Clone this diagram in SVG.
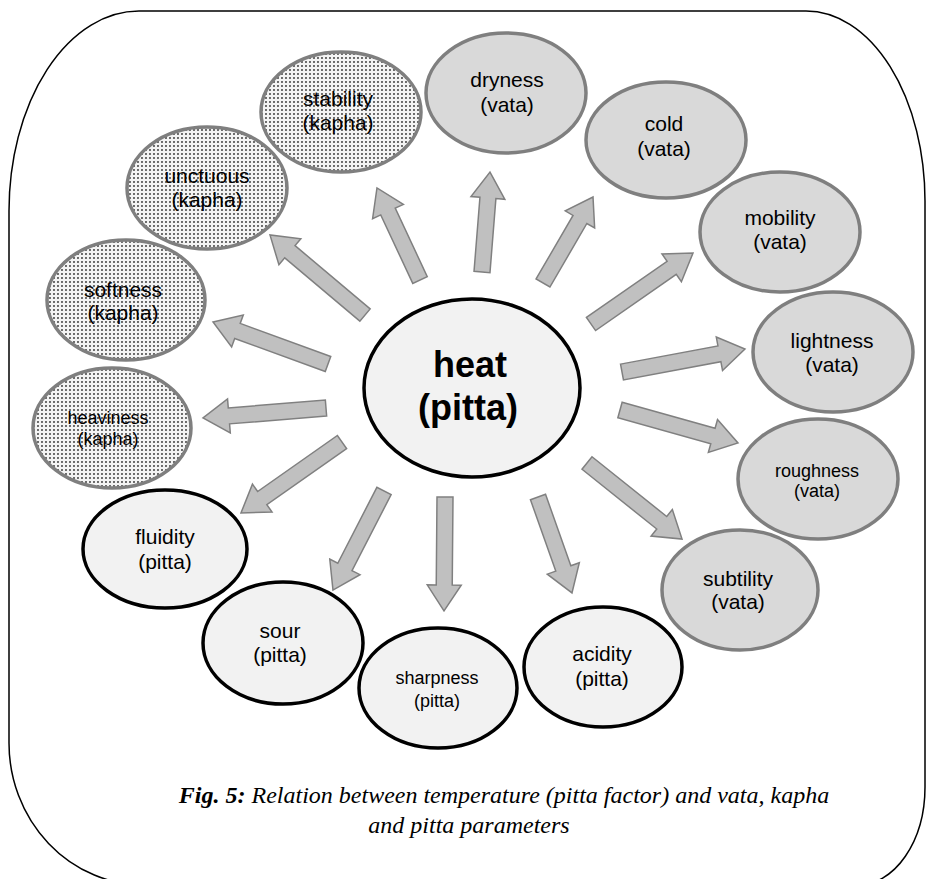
<svg xmlns="http://www.w3.org/2000/svg" width="928" height="879" viewBox="0 0 928 879">
  <defs>
    <!-- stipple fill for the kapha qualities -->
    <pattern id="dots" width="4" height="4" patternUnits="userSpaceOnUse">
      <rect width="4" height="4" fill="#f4f4f4"/>
      <circle cx="2" cy="2" r="1.05" fill="#4a4a4a"/>
    </pattern>
    <style>
      .frame { fill: #ffffff; stroke: #000000; stroke-width: 1.5; }
      .vata { fill: #d9d9d9; stroke: #7f7f7f; stroke-width: 3.5; }
      .kapha { fill: url(#dots); stroke: #7f7f7f; stroke-width: 3.5; }
      .pitta { fill: #f2f2f2; stroke: #000000; stroke-width: 3.5; }
      .lbl { font-family: "Liberation Sans", Arial, sans-serif; font-size: 21px; fill: #000; text-anchor: middle; }
      .sm { font-size: 18px; }
      .big { font-size: 36px; font-weight: bold; }
      .arrow { fill: #c0c0c0; stroke: #808080; stroke-width: 1.5; stroke-linejoin: miter; }
      .cap { font-family: "Liberation Serif", "Times New Roman", serif; font-size: 24px; font-style: italic; fill: #000; text-anchor: middle; }
      .capb { font-weight: bold; }
    </style>
  </defs>

  <rect width="928" height="879" fill="#ffffff"/>

  <!-- outer rounded border -->
  <path class="frame" d="M 139,11 H 806 A 119,190 0 0 1 925,201 V 787 A 67,98 0 0 1 858,885 H 144 A 135,142 0 0 1 9,743 V 211 A 130,200 0 0 1 139,11 Z"/>

  <!-- block arrows radiating from the centre -->
  <g id="connectors">
    <path class="arrow" transform="translate(420,280) rotate(-115.05)" d="M0,-8 H75.6 V-17 L101.6,0 L75.6,17 V8 H0 Z"/>
    <path class="arrow" transform="translate(482,272) rotate(-85.43)" d="M0,-8 H74.3 V-17 L100.3,0 L74.3,17 V8 H0 Z"/>
    <path class="arrow" transform="translate(543,283) rotate(-59.83)" d="M0,-8 H73.5 V-17 L99.5,0 L73.5,17 V8 H0 Z"/>
    <path class="arrow" transform="translate(591,324) rotate(-34.84)" d="M0,-8 H98.3 V-17 L124.3,0 L98.3,17 V8 H0 Z"/>
    <path class="arrow" transform="translate(622,372) rotate(-10.59)" d="M0,-8 H99.1 V-17 L125.1,0 L99.1,17 V8 H0 Z"/>
    <path class="arrow" transform="translate(620,410) rotate(15.62)" d="M0,-8 H96.5 V-17 L122.5,0 L96.5,17 V8 H0 Z"/>
    <path class="arrow" transform="translate(587,463) rotate(38.66)" d="M0,-8 H95.7 V-17 L121.7,0 L95.7,17 V8 H0 Z"/>
    <path class="arrow" transform="translate(538,497) rotate(70.5)" d="M0,-8 H75.8 V-17 L101.8,0 L75.8,17 V8 H0 Z"/>
    <path class="arrow" transform="translate(445,497) rotate(90.5)" d="M0,-8 H88 V-17 L114,0 L88,17 V8 H0 Z"/>
    <path class="arrow" transform="translate(384,491) rotate(117.26)" d="M0,-8 H85.4 V-17 L111.4,0 L85.4,17 V8 H0 Z"/>
    <path class="arrow" transform="translate(342,442) rotate(144.9)" d="M0,-8 H97.5 V-17 L123.5,0 L97.5,17 V8 H0 Z"/>
    <path class="arrow" transform="translate(326,408) rotate(175.35)" d="M0,-8 H97.4 V-17 L123.4,0 L97.4,17 V8 H0 Z"/>
    <path class="arrow" transform="translate(328,364) rotate(-159.94)" d="M0,-8 H96.4 V-17 L122.4,0 L96.4,17 V8 H0 Z"/>
    <path class="arrow" transform="translate(365,315) rotate(-139.9)" d="M0,-8 H98.2 V-17 L124.2,0 L98.2,17 V8 H0 Z"/>
  </g>

  <!-- centre -->
  <g id="heat">
    <ellipse class="pitta" cx="472" cy="388" rx="108" ry="89"/>
    <text class="lbl big" x="470" y="377">heat</text>
    <text class="lbl big" x="468" y="420">(pitta)</text>
  </g>

  <!-- vata -->
  <g id="dryness">
    <ellipse class="vata" cx="506" cy="93" rx="80" ry="60"/>
    <text class="lbl" x="507" y="87">dryness</text>
    <text class="lbl" x="507" y="112">(vata)</text>
  </g>
  <g id="cold">
    <ellipse class="vata" cx="666" cy="140" rx="80" ry="58"/>
    <text class="lbl" x="664" y="131">cold</text>
    <text class="lbl" x="664" y="156">(vata)</text>
  </g>
  <g id="mobility">
    <ellipse class="vata" cx="780" cy="232" rx="80" ry="60"/>
    <text class="lbl" x="780" y="225">mobility</text>
    <text class="lbl" x="780" y="249">(vata)</text>
  </g>
  <g id="lightness">
    <ellipse class="vata" cx="833" cy="352" rx="80" ry="60"/>
    <text class="lbl" x="832" y="348">lightness</text>
    <text class="lbl" x="832" y="372">(vata)</text>
  </g>
  <g id="roughness">
    <ellipse class="vata" cx="818" cy="479" rx="80" ry="60"/>
    <text class="lbl sm" x="817" y="477">roughness</text>
    <text class="lbl sm" x="817" y="497">(vata)</text>
  </g>
  <g id="subtility">
    <ellipse class="vata" cx="740" cy="590" rx="78" ry="60"/>
    <text class="lbl" x="738" y="586">subtility</text>
    <text class="lbl" x="738" y="609">(vata)</text>
  </g>

  <!-- kapha -->
  <g id="stability">
    <ellipse class="kapha" cx="341" cy="112" rx="80" ry="60"/>
    <text class="lbl" x="338" y="106">stability</text>
    <text class="lbl" x="338" y="130">(kapha)</text>
  </g>
  <g id="unctuous">
    <ellipse class="kapha" cx="207" cy="188" rx="80" ry="61"/>
    <text class="lbl" x="207" y="183">unctuous</text>
    <text class="lbl" x="207" y="207">(kapha)</text>
  </g>
  <g id="softness">
    <ellipse class="kapha" cx="126" cy="300" rx="79" ry="60"/>
    <text class="lbl" x="123" y="297">softness</text>
    <text class="lbl" x="123" y="320">(kapha)</text>
  </g>
  <g id="heaviness">
    <ellipse class="kapha" cx="112" cy="428" rx="79" ry="60"/>
    <text class="lbl sm" x="108" y="424">heaviness</text>
    <text class="lbl sm" x="108" y="445">(kapha)</text>
  </g>

  <!-- pitta -->
  <g id="fluidity">
    <ellipse class="pitta" cx="165" cy="549" rx="82" ry="59"/>
    <text class="lbl" x="165" y="544">fluidity</text>
    <text class="lbl" x="165" y="569">(pitta)</text>
  </g>
  <g id="sour">
    <ellipse class="pitta" cx="283" cy="643" rx="80" ry="61"/>
    <text class="lbl" x="280" y="638">sour</text>
    <text class="lbl" x="280" y="662">(pitta)</text>
  </g>
  <g id="sharpness">
    <ellipse class="pitta" cx="438" cy="688" rx="79" ry="60"/>
    <text class="lbl sm" x="437" y="684">sharpness</text>
    <text class="lbl sm" x="437" y="707">(pitta)</text>
  </g>
  <g id="acidity">
    <ellipse class="pitta" cx="603" cy="667" rx="79" ry="60"/>
    <text class="lbl" x="602" y="661">acidity</text>
    <text class="lbl" x="602" y="686">(pitta)</text>
  </g>

  <!-- caption -->
  <g id="caption">
    <text class="cap" x="504" y="803"><tspan class="capb">Fig. 5:</tspan> Relation between temperature (pitta factor) and vata, kapha</text>
    <text class="cap" x="469" y="833">and pitta parameters</text>
  </g>
</svg>
